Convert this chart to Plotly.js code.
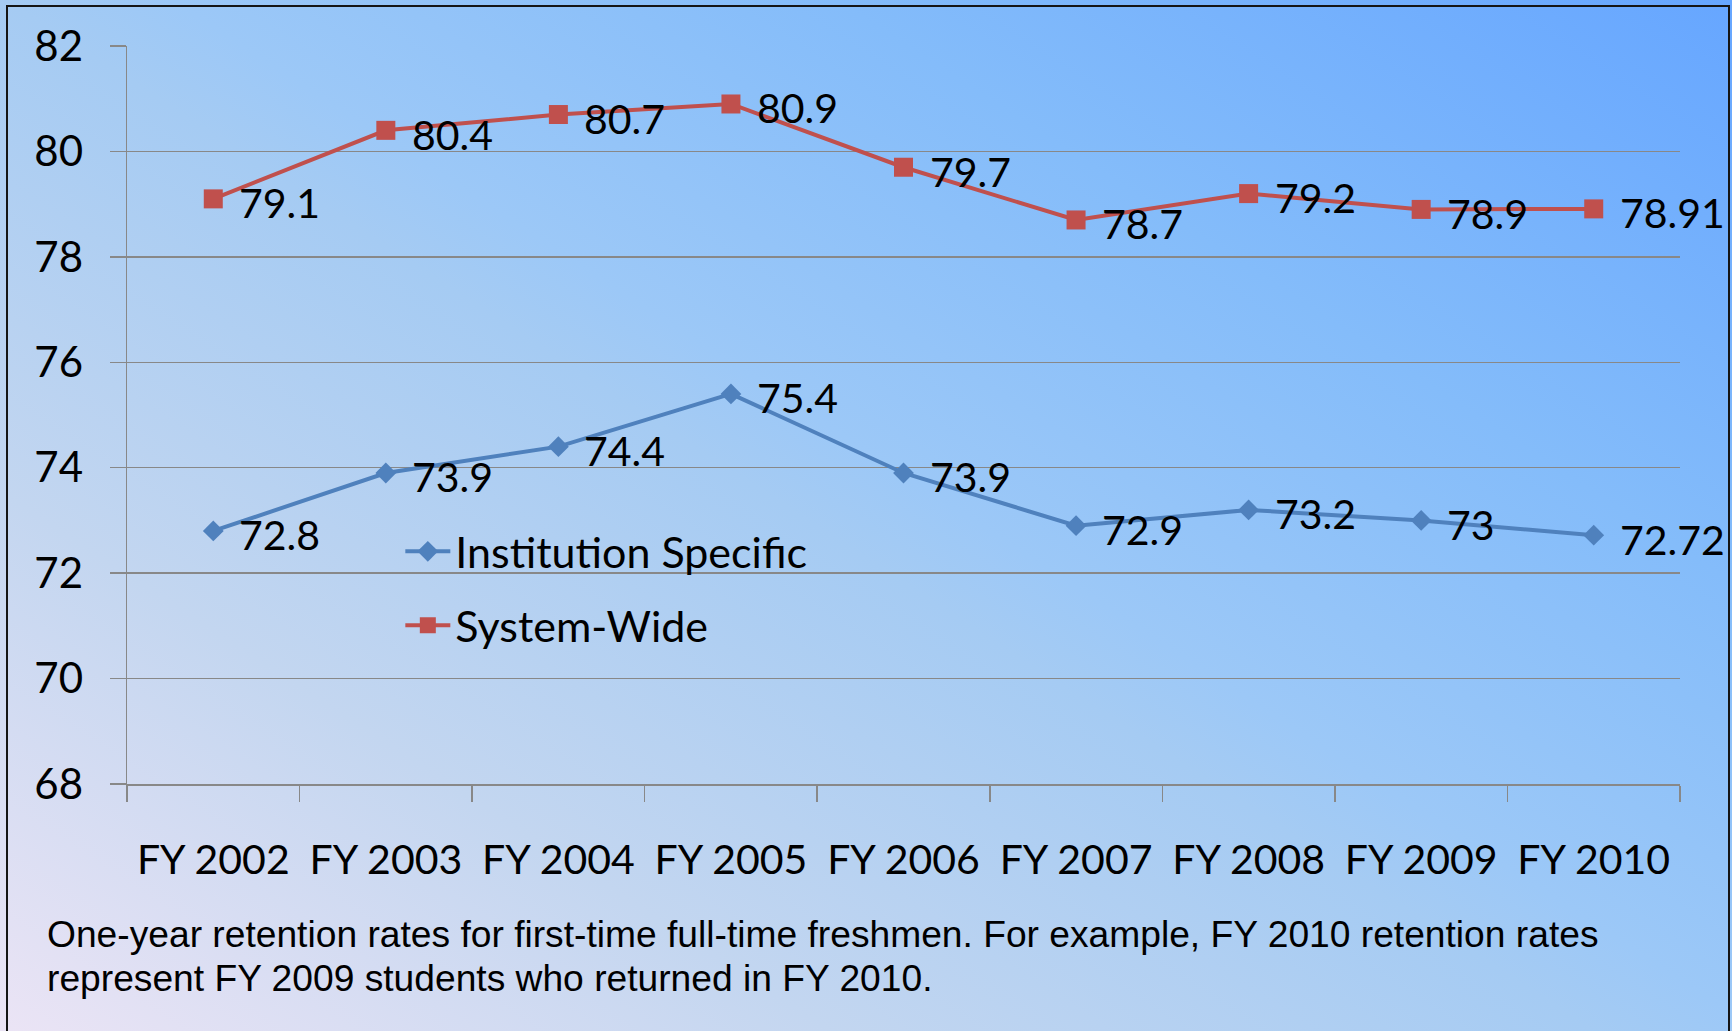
<!DOCTYPE html>
<html>
<head>
<meta charset="utf-8">
<script src="https://cdn.plot.ly/plotly-3.0.1.min.js"></script>
<style>
  html, body { margin: 0; padding: 0; width: 1732px; height: 1031px; overflow: hidden; }
  body { background: linear-gradient(33deg, #ebe4f5 0%, #c3d6f0 25%, #a5cbf3 48%, #9cc8f7 53%, #84bcfa 73%, #66a6ff 100%); position: relative; }
  #frame { position: absolute; left: 6px; top: 5px; width: 1724px; height: 1040px; border: 2px solid #151515; box-sizing: border-box; pointer-events: none; }
  #chart { position: absolute; left: 0; top: 0; width: 1732px; height: 1031px; }
</style>
</head>
<body>
<div id="chart"></div>
<div id="frame"></div>
<script>
const categories = ["FY 2002", "FY 2003", "FY 2004", "FY 2005", "FY 2006", "FY 2007", "FY 2008", "FY 2009", "FY 2010"];
const institutionSpecific = [72.8, 73.9, 74.4, 75.4, 73.9, 72.9, 73.2, 73, 72.72];
const systemWide = [79.1, 80.4, 80.7, 80.9, 79.7, 78.7, 79.2, 78.9, 78.91];
const seriesNames = ["Institution Specific", "System-Wide"];
const yTicks = [68, 70, 72, 74, 76, 78, 80, 82];
const captionLines = [
  "One-year retention rates for first-time full-time freshmen. For example, FY 2010 retention rates",
  "represent FY 2009 students who returned in FY 2010."
];

const sansFont = "Lato, 'Open Sans', sans-serif";
const labelFont = { family: sansFont, size: 41, color: "#000000" };

const traces = [
  {
    x: categories, y: institutionSpecific, name: seriesNames[0], type: "scatter", mode: "lines+markers",
    line: { color: "#4f81bd", width: 4 }, marker: { symbol: "diamond", size: 16, color: "#4f81bd" },
    legendgroup: "a", cliponaxis: false
  },
  {
    x: categories, y: systemWide, name: seriesNames[1], type: "scatter", mode: "lines+markers",
    line: { color: "#c0504d", width: 4 }, marker: { symbol: "square", size: 19, color: "#c0504d" },
    legendgroup: "b", cliponaxis: false
  }
];

function dataLabels(values) {
  return values.map((v, i) => ({
    x: categories[i], y: v, xref: "x", yref: "y", text: String(v),
    xanchor: "left", yanchor: "middle", showarrow: false,
    xshift: 24, yshift: -4, font: labelFont
  }));
}

const capFont = { family: "'Liberation Sans Narrow', 'Arial Narrow', 'Liberation Sans', Arial, sans-serif", size: 37.2, color: "#000000" };

const captionAnns = captionLines.map((t, i) => ({
  text: t, xref: "paper", yref: "paper", x: -0.0525, y: -0.203 - i * 0.0605,
  xanchor: "left", yanchor: "middle", showarrow: false, font: capFont, align: "left"
}));

const layout = {
  width: 1732, height: 1031,
  margin: { l: 127, r: 52, t: 46, b: 247 },
  paper_bgcolor: "rgba(0,0,0,0)", plot_bgcolor: "rgba(0,0,0,0)",
  showlegend: true,
  legend: {
    x: 0.176, y: 0.362, xanchor: "left", yanchor: "top",
    bgcolor: "rgba(0,0,0,0)", font: { family: sansFont, size: 43, color: "#000" },
    tracegroupgap: 15, traceorder: "grouped", itemwidth: 45
  },
  xaxis: {
    type: "category", range: [-0.5, 8.5], tickson: "boundaries", ticks: "outside", ticklen: 16, tickcolor: "#888888", tickwidth: 1.5,
    showline: true, linecolor: "#888888", linewidth: 1.5, showgrid: false,
    tickfont: { family: sansFont, size: 41, color: "#000" },
    ticklabelstandoff: 39
  },
  yaxis: {
    range: [68, 82], tickvals: yTicks, ticks: "outside", ticklen: 16, tickcolor: "#888888", tickwidth: 1.5,
    showline: true, linecolor: "#888888", linewidth: 1.5,
    showgrid: true, gridcolor: "#888888", gridwidth: 1.5, zeroline: false,
    tickfont: { family: sansFont, size: 42, color: "#000" },
    ticklabelstandoff: 18
  },
  annotations: dataLabels(institutionSpecific).concat(dataLabels(systemWide), captionAnns)
};

Plotly.newPlot("chart", traces, layout, { displayModeBar: false, staticPlot: true });
</script>
</body>
</html>
